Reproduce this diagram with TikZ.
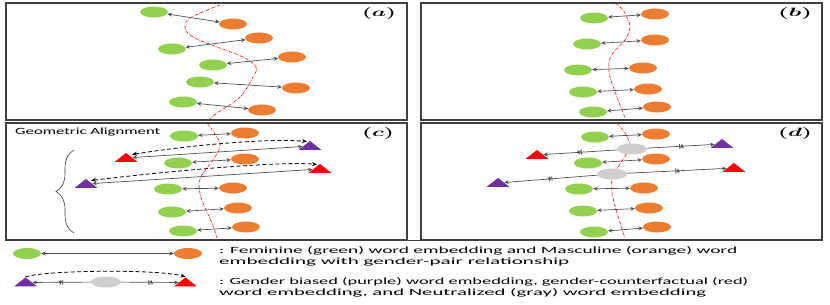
\documentclass[tikz,border=0pt]{standalone}
\usepackage{fontspec}
\newfontfamily\legfont{Carlito}
\usetikzlibrary{shapes.geometric,arrows.meta,decorations.pathreplacing,decorations.markings}
\definecolor{cgreen}{HTML}{92D050}
\definecolor{corange}{HTML}{ED7D31}
\definecolor{cpurple}{HTML}{7030A0}
\definecolor{cred}{HTML}{FF0000}
\definecolor{cgray}{HTML}{D0CECE}
\definecolor{cline}{HTML}{505050}
\definecolor{cframe}{HTML}{404040}
\begin{document}
\begin{tikzpicture}[x=1pt,y=-1pt,
  fem/.style={ellipse, fill=cgreen, minimum width=28pt, minimum height=11pt, inner sep=0pt},
  mas/.style={ellipse, fill=corange, minimum width=28pt, minimum height=11pt, inner sep=0pt},
  neu/.style={ellipse, fill=cgray, minimum width=30pt, minimum height=11pt, inner sep=0pt},
  tri/.style={isosceles triangle, isosceles triangle stretches, shape border rotate=90, minimum width=23pt, minimum height=9pt, inner sep=0pt},
  bias/.style={tri, fill=cpurple},
  cf/.style={tri, fill=cred},
  tip/.tip={Stealth[open,length=4.5pt,width=4pt]},
  pair/.style={draw=cline, line width=0.7pt, tip-tip},
  oneway/.style={draw=cline, line width=0.7pt, -tip},
  dasharr/.style={draw=black, line width=0.8pt, dash pattern=on 4pt off 2.5pt},
  ticks/.style={postaction={decorate}, decoration={markings, mark=at position 0.5 with {\draw[cline, line width=0.7pt] (-1.2pt,-2.5pt)--(-1.2pt,2.5pt) (1.2pt,-2.5pt)--(1.2pt,2.5pt);}}},
  redc/.style={draw=cred, line width=0.6pt, dash pattern=on 3pt off 1.2pt on 0.6pt off 1.2pt},
  frame/.style={draw=cframe, line width=1.2pt},
  lab/.style={inner sep=0pt},
  txt/.style={anchor=base west, inner sep=0pt}
]
\useasboundingbox (0,0) rectangle (830,305);
% frames
\draw[frame] (6,3) rectangle (407,120);
\draw[frame] (421,3) rectangle (822,120);
\draw[frame] (6,123) rectangle (407,240);
\draw[frame] (421,123) rectangle (822,240);
\draw[frame] (6,240.5) -- (822,240.5);
% panel labels
\node[lab] (la) at (379,14) {\resizebox{34pt}{\height}{\fontsize{12}{14}\selectfont\boldmath$(a)$}};
\node[lab] (lb) at (795,14) {\resizebox{34pt}{\height}{\fontsize{12}{14}\selectfont\boldmath$(b)$}};
\node[lab] (lc) at (378,133) {\resizebox{32pt}{\height}{\fontsize{12}{14}\selectfont\boldmath$(c)$}};
\node[lab] (ld) at (795,133) {\resizebox{34pt}{\height}{\fontsize{12}{14}\selectfont\boldmath$(d)$}};
% red curves
\draw[redc] plot[smooth, tension=0.6] coordinates {(220,5) (190,18) (185,28) (193,37) (217,47) (243,57) (256,67) (253,77) (240,97) (217,113) (209,120)};
\draw[redc] plot[smooth, tension=0.6] coordinates {(207,123) (217,137) (220,147) (213,160) (202,175) (199,187) (203,203) (212,223) (217,238)};
\draw[redc] plot[smooth, tension=0.6] coordinates {(615,3) (623,10) (628,20) (630,28) (625,40) (613,53) (609,63) (610,77) (617,97) (625,118)};
\draw[redc] plot[smooth, tension=0.6] coordinates {(617,123) (625,133) (630,145) (627,153) (618,167) (612,180) (612,193) (617,213) (625,238)};
% panel (a)
\node[fem] (ag1) at (154,12) {};
\node[mas] (ao1) at (233,24) {};
\node[mas] (ao2) at (259,38) {};
\node[fem] (ag2) at (172,49) {};
\node[mas] (ao3) at (292,57) {};
\node[fem] (ag3) at (213,65) {};
\node[fem] (ag4) at (200,82) {};
\node[mas] (ao4) at (296,88) {};
\node[fem] (ag5) at (183,102) {};
\node[mas] (ao5) at (262,110) {};
\foreach \i in {1,...,5} {\draw[pair] (ag\i) -- (ao\i);}
% panel (b)
\node[fem] (bg1) at (594,18) {};  \node[mas] (bo1) at (655,14) {};
\node[fem] (bg2) at (587,44) {};  \node[mas] (bo2) at (655,40) {};
\node[fem] (bg3) at (578,70) {};  \node[mas] (bo3) at (643,68) {};
\node[fem] (bg4) at (583,92) {};  \node[mas] (bo4) at (648,89) {};
\node[fem] (bg5) at (593,112) {}; \node[mas] (bo5) at (657,107) {};
\foreach \i in {1,...,5} {\draw[pair] (bg\i) -- (bo\i);}
% panel (c)
\node[txt] (ga) at (15,134) {\resizebox{145pt}{\height}{\legfont\fontsize{9.5}{11}\selectfont Geometric Alignment}};
\draw[cframe, line width=0.6pt, decorate, decoration={brace, amplitude=18pt}] (74,233) -- (74,150);
\node[fem] (cg1) at (184,136) {}; \node[mas] (co1) at (245,133) {};
\node[fem] (cg2) at (178,163) {}; \node[mas] (co2) at (245,159) {};
\node[fem] (cg3) at (168,189) {}; \node[mas] (co3) at (233,188) {};
\node[fem] (cg4) at (172,212) {}; \node[mas] (co4) at (238,208) {};
\node[fem] (cg5) at (183,231) {}; \node[mas] (co5) at (246,227) {};
\foreach \i in {1,...,5} {\draw[pair] (cg\i) -- (co\i);}
\node[bias] (cp1) at (310,146) {};
\node[cf] (cr1) at (126,158) {};
\node[cf] (cr2) at (320,169) {};
\node[bias] (cp2) at (86,184) {};
\draw[pair] (cr1) -- (cp1);
\draw[pair] (cp2) -- (cr2);
\draw[dasharr, {Stealth[length=5pt,width=4pt]}-{Stealth[length=5pt,width=4pt]}] ([shift={(6,2)}]cr1.apex) .. controls (185,146) and (265,138) .. ([shift={(-3,1)}]cp1.apex);
\draw[dasharr, {Stealth[length=5pt,width=4pt]}-{Stealth[length=5pt,width=4pt]}] ([shift={(5,2)}]cp2.apex) .. controls (170,171) and (280,161) .. ([shift={(-3,1)}]cr2.apex);
% panel (d)
\node[fem] (dg1) at (595,137) {}; \node[mas] (do1) at (656,134) {};
\node[fem] (dg2) at (588,163) {}; \node[mas] (do2) at (656,159) {};
\node[fem] (dg3) at (579,189) {}; \node[mas] (do3) at (644,188) {};
\node[fem] (dg4) at (583,211) {}; \node[mas] (do4) at (649,208) {};
\node[fem] (dg5) at (594,232) {}; \node[mas] (do5) at (657,227) {};
\foreach \i in {1,...,5} {\draw[pair] (dg\i) -- (do\i);}
\node[bias] (dp1) at (722,144) {};
\node[cf] (dr1) at (537,155) {};
\node[cf] (dr2) at (734,168) {};
\node[bias] (dp2) at (498,183) {};
\node[neu] (dn1) at (632,149) {};
\node[neu] (dn2) at (612,174) {};
\draw[oneway, ticks] (dn1) -- (dp1);
\draw[oneway, ticks] (dn1) -- (dr1);
\draw[oneway, ticks] (dn2) -- (dr2);
\draw[oneway, ticks] (dn2) -- (dp2);
% legend
\node[fem] (lg) at (27,253.5) {};
\node[mas] (lo) at (188,253.5) {};
\draw[pair] (lg) -- (lo);
\node[bias] (lp) at (25.5,282.5) {};
\node[neu] (ln) at (106,282) {};
\node[cf] (lr) at (185.5,282.5) {};
\draw[oneway, ticks] (ln) -- (lp);
\draw[oneway, ticks] (ln) -- (lr);
\draw[dasharr, -{Stealth[length=5pt,width=4pt]}] (lp.apex) .. controls (45,270) and (160,269) .. (lr.apex);
\node[txt] (t1) at (219,253) {\resizebox{518pt}{\height}{\legfont\fontsize{9.5}{11}\selectfont : Feminine (green) word embedding and Masculine (orange) word}};
\node[txt] (t2) at (219,264) {\resizebox{350pt}{\height}{\legfont\fontsize{9.5}{11}\selectfont embedding with gender-pair relationship}};
\node[txt] (t3) at (219,284) {\resizebox{529pt}{\height}{\legfont\fontsize{9.5}{11}\selectfont : Gender biased (purple) word embedding, gender-counterfactual (red)}};
\node[txt] (t4) at (219,295) {\resizebox{487pt}{\height}{\legfont\fontsize{9.5}{11}\selectfont word embedding, and Neutralized (gray) word embedding}};
\end{tikzpicture}
\end{document}
